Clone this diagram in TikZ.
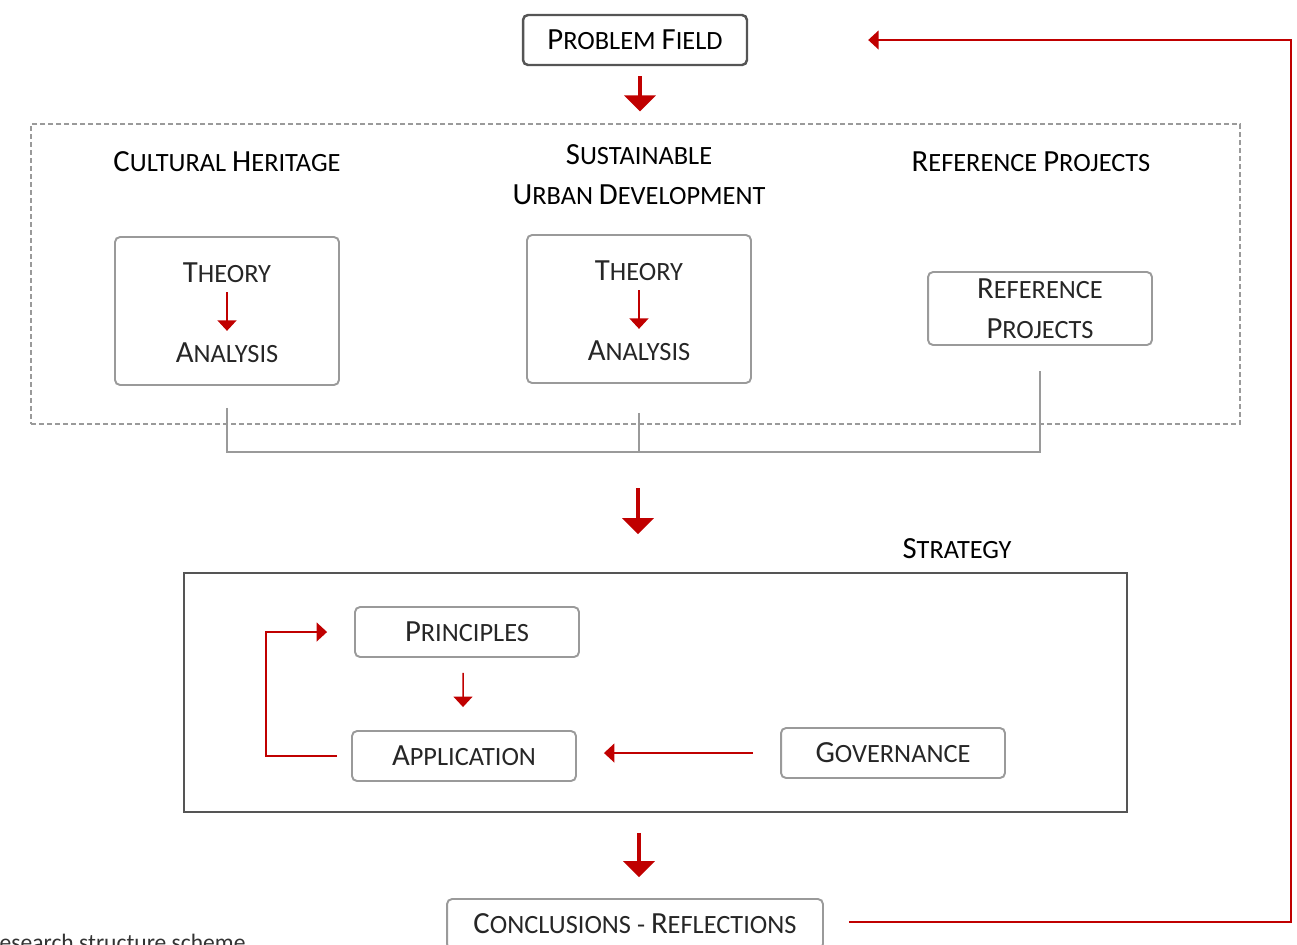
\documentclass[tikz,border=0pt]{standalone}
\usepackage{fontspec}
\setmainfont{Carlito}
\usetikzlibrary{positioning, arrows.meta, calc}
\definecolor{accent}{HTML}{C00000}
\definecolor{framegray}{HTML}{9A9A9A}
\definecolor{darkframe}{HTML}{555555}
\newcommand\C[1]{{\fontsize{17.5}{20}\selectfont #1}}
\tikzstyle{item} = [rectangle, rounded corners=0.1cm, minimum width=4.48cm, minimum height=1cm, text centered, draw=framegray, line width=1.1pt, text=black!85, font=\fontsize{15}{22.7}\selectfont]
\tikzstyle{header} = [text centered, text=black, font=\fontsize{15}{22.7}\selectfont]
\tikzstyle{word} = [text centered, text=black!85, font=\fontsize{15}{18}\selectfont]
\tikzstyle{bigarrow} = [accent, line width=2.8pt, -{Triangle[width=0.62cm, length=0.32cm]}]
\tikzstyle{redarrow} = [accent, line width=0.85pt, -{Triangle[width=0.38cm, length=0.21cm]}]
\tikzstyle{link} = [framegray, line width=1.1pt]

\begin{document}
\begin{tikzpicture}[x=0.02cm, y=-0.02cm]
        \useasboundingbox (0,0) rectangle (1297,944);

        \node (problem) [item, draw=darkframe, line width=1.4pt, text=black] at (635,40) {\C{P}ROBLEM \C{F}IELD};
        \node (study) [rectangle, draw=framegray, dashed, dash pattern=on 0.1cm off 0.06cm, line width=0.8pt, minimum width=24.18cm, minimum height=6cm] at (635.5,274) {};

        \node (headA) [header] at (227,162) {\C{C}ULTURAL \C{H}ERITAGE};
        \node (headB) [header, align=center] at (639,175) {\C{S}USTAINABLE\\\C{U}RBAN \C{D}EVELOPMENT};
        \node (headC) [header] at (1031,162) {\C{R}EFERENCE \C{P}ROJECTS};

        \node (frameA) [item, minimum height=2.96cm] at (227,311) {};
        \node (theoryA) [word] at (227,273) {\C{T}HEORY};
        \node (analysisA) [word] at (227,353) {\C{A}NALYSIS};
        \node (frameB) [item, minimum height=2.96cm] at (639,309) {};
        \node (theoryB) [word] at (639,271) {\C{T}HEORY};
        \node (analysisB) [word] at (639,351) {\C{A}NALYSIS};
        \node (refs) [item, minimum height=1.46cm, align=center] at (1040,308.5) {\C{R}EFERENCE\\\C{P}ROJECTS};

        \draw [redarrow, shorten <=0.06cm, shorten >=0.12cm] (theoryA) -- (analysisA);
        \draw [redarrow, shorten <=0.06cm, shorten >=0.12cm] (theoryB) -- (analysisB);

        % joining lines under the three studies
        \coordinate (bus) at (638,452);
        \coordinate (jA) at ($(frameA.south)+(0,22)$);
        \coordinate (jB) at ($(frameB.south)+(0,29)$);
        \coordinate (jC) at ($(refs.south)+(0,25)$);
        \draw [link] (jA) -- (jA |- bus) -| (jC);
        \draw [link] (jB) -- (jB |- bus);

        \node (stratlabel) [header] at (957,549) {\C{S}TRATEGY};
        \node (strategy) [rectangle, draw=darkframe, line width=1.1pt, minimum width=18.86cm, minimum height=4.78cm] at (655.5,692.5) {};
        \node (principles) [item] at (467,632) {\C{P}RINCIPLES};
        \node (application) [item] at (464,756) {\C{A}PPLICATION};
        \node (governance) [item] at (893,753) {\C{G}OVERNANCE};

        \node (conclusions) [item, minimum width=7.52cm] at (635,924) {\C{C}ONCLUSIONS - \C{R}EFLECTIONS};
        \node (caption) [anchor=base west, inner sep=0pt, text=black!80, font=\fontsize{13.4}{16}\selectfont] at (-13,950) {Research structure scheme};

        \draw [bigarrow, shorten <=0.2cm, shorten >=0.24cm] ([xshift=0.1cm]problem.south) -- ([xshift=0.1cm]problem.south |- study.north);
        \draw [bigarrow, shorten <=0.72cm, shorten >=0.76cm] (bus) -- (bus |- strategy.north);
        \draw [bigarrow, shorten <=0.4cm, shorten >=0.42cm] (strategy.south -| 639,0) -- (conclusions.north -| 639,0);

        \draw [redarrow, shorten <=0.3cm, shorten >=0.46cm] ([xshift=-0.08cm]principles.south) -- ([xshift=-0.02cm]application.north);
        \draw [redarrow] ([xshift=-0.28cm]application.west) -- ++(-71,0) |- ([xshift=-0.54cm]principles.west);
        \draw [redarrow, shorten <=0.54cm, shorten >=0.54cm] (governance.west) -- (governance.west -| application.east);
        \draw [redarrow] ([xshift=0.5cm, yshift=0.04cm]conclusions.east) -- ++(442,0) |- ([xshift=2.4cm]problem.east);

        \end{tikzpicture}
\end{document}
